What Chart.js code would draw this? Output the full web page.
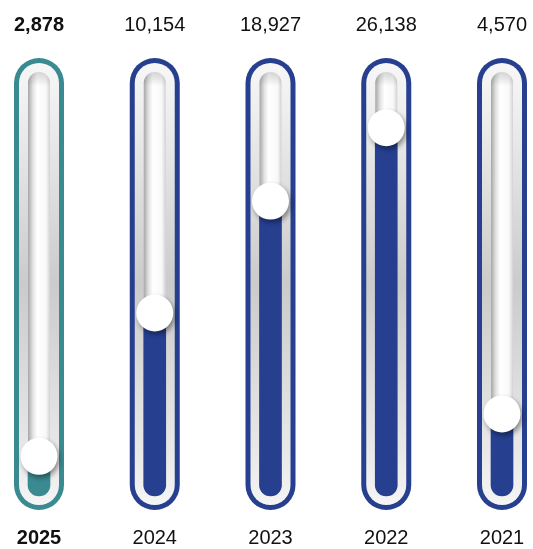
<!DOCTYPE html>
<html>
<head>
<meta charset="utf-8">
<script src="https://cdn.jsdelivr.net/npm/chart.js@4.4.1/dist/chart.umd.min.js"></script>
<style>
  html, body { margin: 0; padding: 0; background: #fff; }
  canvas { display: block; }
</style>
</head>
<body>
<canvas id="myChart" width="533" height="549"></canvas>
<script>
(function () {
  'use strict'
//----------------

var anos = ['2025', '2024', '2023', '2022', '2021']
var valores = [2878, 10154, 18927, 26138, 4570]
var destaque = 0 // coluna em destaque (ano atual)

// limites da escala (raiz quadrada)
var escalaMin = 1650
var escalaMax = 32400

var azul = '#263f8f'
var verde = '#3a8a92'
var fonte = '"Liberation Sans", Arial, sans-serif'

function corDe(i) {
  return i === destaque ? verde : azul
}

// escala em raiz quadrada, derivada da linear
class SqrtScale extends Chart.LinearScale {
  getPixelForValue(value) {
    var a = Math.sqrt(this.min), b = Math.sqrt(this.max)
    return this.getPixelForDecimal((Math.sqrt(Math.max(value, 0)) - a) / (b - a))
  }
  getValueForPixel(pixel) {
    var a = Math.sqrt(this.min), b = Math.sqrt(this.max)
    var s = a + this.getDecimalForPixel(pixel) * (b - a)
    return s * s
  }
}
SqrtScale.id = 'sqrt'
SqrtScale.defaults = Chart.LinearScale.defaults
Chart.register(SqrtScale)

// contorno em forma de pílula
function pilula(ctx, cx, topo, base, r) {
  ctx.beginPath()
  ctx.arc(cx, topo + r, r, Math.PI, 0)
  ctx.arc(cx, base - r, r, 0, Math.PI)
  ctx.closePath()
}

// tubos por trás das barras, sombra dos marcadores e textos
const tubos = {
  id: 'tubos',
  beforeDatasetsDraw(chart) {
    const ctx = chart.ctx
    const area = chart.chartArea
    const x = chart.scales.x
    const topo = area.top - 14
    const base = area.bottom + 14

    valores.forEach(function (v, i) {
      const cx = x.getPixelForValue(i)
      ctx.save()

      pilula(ctx, cx, topo, base, 25)
      ctx.fillStyle = corDe(i)
      ctx.fill()

      const anel = ctx.createLinearGradient(0, topo, 0, base)
      anel.addColorStop(0, '#f8f8f8')
      anel.addColorStop(0.12, '#eeeeee')
      anel.addColorStop(0.5, '#cbcbcb')
      anel.addColorStop(0.88, '#e9e9e9')
      anel.addColorStop(1, '#f6f6f6')
      pilula(ctx, cx, topo + 5, base - 5, 20)
      ctx.fillStyle = anel
      ctx.fill()

      const canal = ctx.createLinearGradient(cx - 11, 0, cx + 11, 0)
      canal.addColorStop(0, '#a6a6a6')
      canal.addColorStop(0.22, '#e2e2e2')
      canal.addColorStop(0.42, '#ffffff')
      canal.addColorStop(0.82, '#f8f8f8')
      canal.addColorStop(1, '#d2d2d2')
      pilula(ctx, cx, area.top, area.bottom, 11)
      ctx.fillStyle = canal
      ctx.fill()

      // leve sombra interna no topo do canal
      const sombra = ctx.createLinearGradient(0, area.top, 0, area.top + 14)
      sombra.addColorStop(0, 'rgba(0, 0, 0, 0.16)')
      sombra.addColorStop(1, 'rgba(0, 0, 0, 0)')
      ctx.fillStyle = sombra
      ctx.fill()

      ctx.restore()
    })
  },
  beforeDatasetDraw(chart, args) {
    if (args.meta.type !== 'line') return
    const ctx = chart.ctx
    ctx.save()
    ctx.shadowColor = 'rgba(0, 0, 0, 0.4)'
    ctx.shadowBlur = 5
    ctx.shadowOffsetX = 2
    ctx.shadowOffsetY = 3
  },
  afterDatasetDraw(chart, args) {
    if (args.meta.type !== 'line') return
    chart.ctx.restore()
  },
  afterDatasetsDraw(chart) {
    const ctx = chart.ctx
    const x = chart.scales.x
    const area = chart.chartArea
    ctx.save()
    ctx.fillStyle = '#111'
    ctx.textAlign = 'center'
    ctx.textBaseline = 'middle'
    valores.forEach(function (v, i) {
      const cx = x.getPixelForValue(i)
      ctx.font = (i === destaque ? 'bold ' : '') + '20px ' + fonte
      ctx.fillText(v.toLocaleString('en-US'), cx, area.top - 47)
      ctx.fillText(anos[i], cx, area.bottom + 42)
    })
    ctx.restore()
  }
}

const ctx = document.getElementById('myChart').getContext('2d')

new Chart(ctx, {
  type: 'bar',
  data: {
    labels: anos,
    datasets: [
      {
        label: 'nível',
        data: valores,
        backgroundColor: valores.map(function (v, i) { return corDe(i) }),
        barThickness: 22,
        base: escalaMin,
        borderRadius: { topLeft: 0, topRight: 0, bottomLeft: 11, bottomRight: 11 },
        borderSkipped: false,
        clip: false,
        order: 2
      },
      {
        label: 'marcador',
        type: 'line',
        data: valores,
        showLine: false,
        pointRadius: 18.5,
        pointHoverRadius: 18.5,
        pointBackgroundColor: '#ffffff',
        pointBorderWidth: 0,
        clip: false,
        order: 1
      }
    ]
  },
  options: {
    responsive: false,
    animation: false,
    layout: { padding: { left: 39, right: 31, top: 72, bottom: 53 } },
    plugins: {
      legend: { display: false },
      tooltip: { enabled: false }
    },
    scales: {
      x: {
        display: false,
        offset: false
      },
      y: {
        type: 'sqrt',
        display: false,
        min: escalaMin,
        max: escalaMax
      }
    }
  },
  plugins: [tubos]
})

//----

})()
</script>
</body>
</html>
